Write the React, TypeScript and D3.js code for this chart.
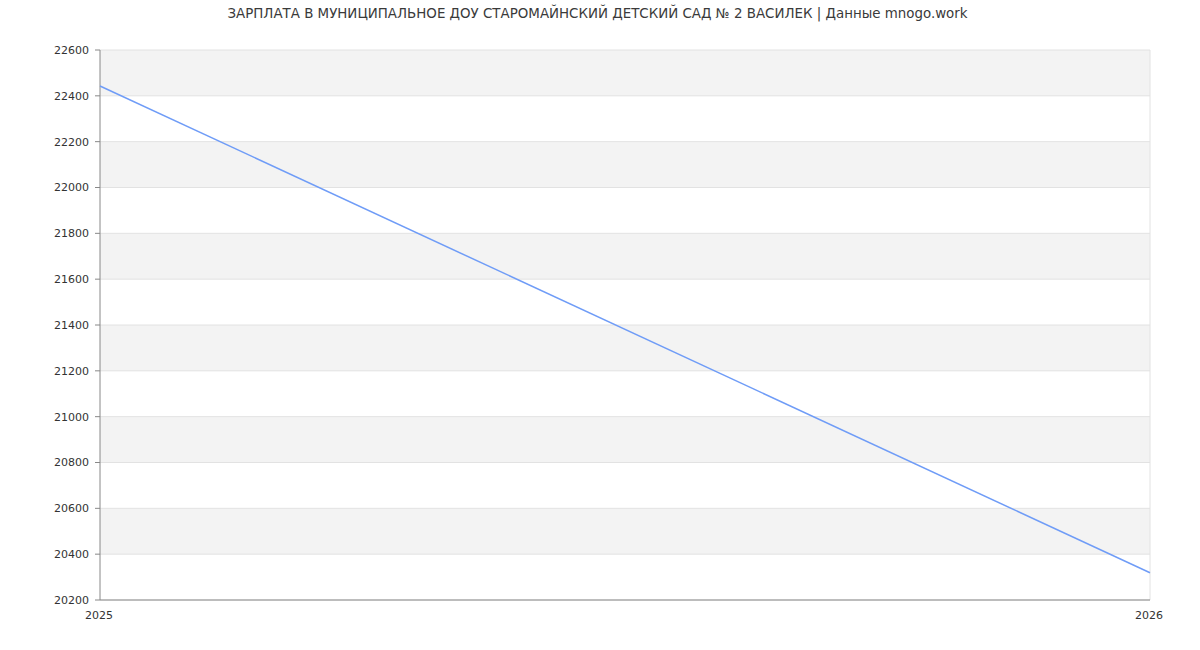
import React from "react";
import * as d3 from "d3";

const title = "ЗАРПЛАТА В МУНИЦИПАЛЬНОЕ ДОУ СТАРОМАЙНСКИЙ ДЕТСКИЙ САД № 2 ВАСИЛЕК | Данные mnogo.work";
const years = [2025, 2026];
const salaries = [22443, 20319];
const yTicks = [20200, 20400, 20600, 20800, 21000, 21200, 21400, 21600, 21800, 22000, 22200, 22400, 22600];

const W = 1200, H = 650;
const M = { left: 100, right: 50, top: 50, bottom: 50 };

export default function App() {
  const x = d3.scaleLinear().domain([years[0], years[years.length - 1]]).range([M.left, W - M.right]);
  const y = d3.scaleLinear().domain([yTicks[0], yTicks[yTicks.length - 1]]).range([H - M.bottom, M.top]);
  const line = d3.line<number>().x((_, i) => x(years[i])).y((d) => y(d));
  const font = "'DejaVu Sans', sans-serif";
  return (
    <svg width={W} height={H} style={{ position: "absolute", left: 0, top: 0, background: "#fff" }}>
      {yTicks.slice(0, -1).map((t, i) => {
        const top = y(yTicks[i + 1]);
        const bot = y(t);
        const gray = (yTicks.length - 2 - i) % 2 === 0;
        return <rect key={t} x={M.left} y={top} width={W - M.right - M.left} height={bot - top} fill={gray ? "#f3f3f3" : "#ffffff"} />;
      })}
      {yTicks.map((t) => (
        <line key={"g" + t} x1={M.left} x2={W - M.right} y1={y(t)} y2={y(t)} stroke="#e2e2e2" strokeWidth={1} />
      ))}
      <line x1={W - M.right} x2={W - M.right} y1={M.top} y2={H - M.bottom} stroke="#e2e2e2" />
      <line x1={M.left} x2={M.left} y1={M.top} y2={H - M.bottom} stroke="#888" />
      <line x1={M.left} x2={W - M.right} y1={H - M.bottom} y2={H - M.bottom} stroke="#888" />
      {yTicks.map((t) => (
        <g key={"t" + t}>
          <line x1={M.left - 5} x2={M.left} y1={y(t)} y2={y(t)} stroke="#888" />
          <text x={M.left - 11} y={y(t)} dy="0.35em" textAnchor="end" fontSize={11} fontFamily={font} fill="#333">{t}</text>
        </g>
      ))}
      {years.map((yr) => (
        <text key={yr} x={x(yr) - 1} y={H - M.bottom + 18.5} textAnchor="middle" fontSize={11} fontFamily={font} fill="#333">{yr}</text>
      ))}
      <path d={line(salaries) || ""} fill="none" stroke="#6f9cf7" strokeWidth={1.5} />
      <text x={597.5} y={18} textAnchor="middle" fontSize={13.4} fontFamily={font} fill="#3a3a3a">{title}</text>
    </svg>
  );
}
